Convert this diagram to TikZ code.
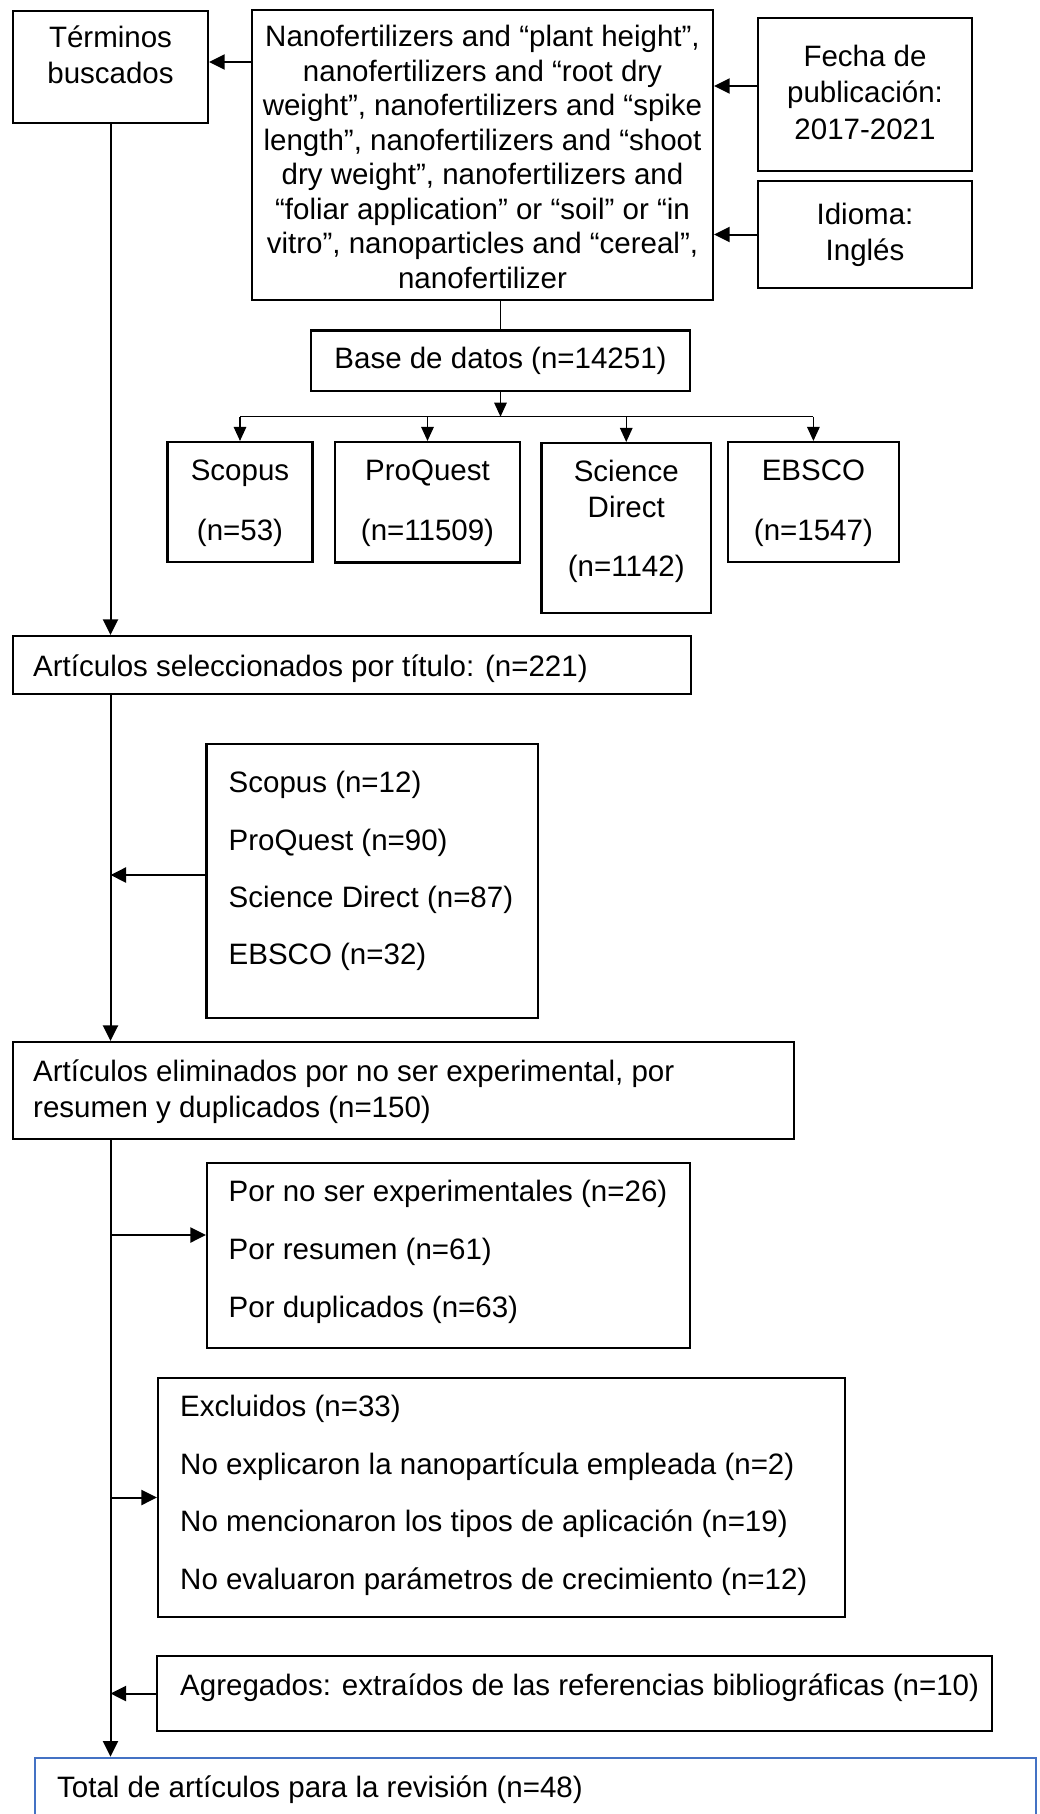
\documentclass[tikz,border=0pt]{standalone}
\usepackage{fontspec}
\setmainfont{Liberation Sans}
\usetikzlibrary{arrows.meta,calc}
\definecolor{boxblue}{RGB}{68,114,196}
\begin{document}
\begin{tikzpicture}[x=1pt,y=-1pt,
  bx/.style={draw,line width=2.1pt,inner sep=0pt,rectangle},
  tx/.style={inner sep=0pt,font=\fontsize{29.5}{35}\selectfont},
  arr/.style={line width=2pt,-{Triangle[length=15.5pt,width=15pt]}},
  tarr/.style={line width=1.3pt,-{Triangle[length=14pt,width=12.5pt]}},
  tline/.style={line width=1.3pt},
]
\useasboundingbox (0,0) rectangle (1039,1814);
\fill[white] (0,0) rectangle (1039,1814);

% ---------- boxes ----------
\node[bx,minimum width=195pt,minimum height=112pt] (term) at (110.5,67) {};
\node[bx,minimum width=461pt,minimum height=290pt] (nano) at (482.5,155) {};
\node[bx,minimum width=214pt,minimum height=153pt] (fecha) at (865,94.2) {};
\node[bx,minimum width=214pt,minimum height=107pt] (idioma) at (865,234.5) {};
\node[bx,minimum width=379pt,minimum height=60.5pt] (base) at (500.5,360.75) {};
\node[bx,minimum width=145pt,minimum height=119.7pt] (scopus) at (240,501.85) {};
\node[bx,minimum width=185pt,minimum height=120.5pt] (proquest) at (427.5,502.25) {};
\node[bx,minimum width=169.5pt,minimum height=169.7pt] (scidir) at (626.25,527.85) {};
\node[bx,minimum width=170.8pt,minimum height=120pt] (ebsco) at (813.4,502) {};
\node[bx,minimum width=678pt,minimum height=58pt] (sel) at (352,665) {};
\node[bx,minimum width=331.5pt,minimum height=273.4pt] (list) at (372.25,881) {};
\node[bx,minimum width=781pt,minimum height=97pt] (elim) at (403.5,1090.5) {};
\node[bx,minimum width=483pt,minimum height=185pt] (por) at (448.5,1255.5) {};
\node[bx,minimum width=687pt,minimum height=239pt] (excl) at (501.5,1497.5) {};
\node[bx,minimum width=835pt,minimum height=75pt] (agr) at (574.5,1693.5) {};
\node[bx,draw=boxblue,line width=2.7pt,minimum width=1001pt,minimum height=82pt] (total) at (535.5,1799) {};

% ---------- texts ----------
\node[tx,anchor=base] (t1) at (110.5,48) {Términos};
\node[tx,anchor=base] (t2) at (110.5,83.5) {buscados};

\foreach \s [count=\i from 0] in {%
  {Nanofertilizers and “plant height”,},
  {nanofertilizers and “root dry},
  {weight”, nanofertilizers and “spike},
  {length”, nanofertilizers and “shoot},
  {dry weight”, nanofertilizers and},
  {“foliar application” or “soil” or “in},
  {vitro”, nanoparticles and “cereal”,},
  {nanofertilizer}}
  \node[tx,anchor=base] (n\i) at (482.5,46.7+34.5*\i) {\s};

\node[tx,anchor=base] (f1) at (865,66.7) {Fecha de};
\node[tx,anchor=base] (f2) at (865,103) {publicación:};
\node[tx,anchor=base] (f3) at (865,139.3) {2017-2021};
\node[tx,anchor=base] (i1) at (865,225) {Idioma:};
\node[tx,anchor=base] (i2) at (865,260) {Inglés};

\node[tx,anchor=base] (b1) at (500.5,368) {Base de datos (n=14251)};

\node[tx,anchor=base] (s1) at (240,480) {Scopus};
\node[tx,anchor=base] (s2) at (240,540) {(n=53)};
\node[tx,anchor=base] (p1) at (427.5,480) {ProQuest};
\node[tx,anchor=base] (p2) at (427.5,540) {(n=11509)};
\node[tx,anchor=base] (d1) at (626.25,481.7) {Science};
\node[tx,anchor=base] (d2) at (626.25,517) {Direct};
\node[tx,anchor=base] (d3) at (626.25,576.7) {(n=1142)};
\node[tx,anchor=base] (e1) at (813.4,480) {EBSCO};
\node[tx,anchor=base] (e2) at (813.4,540) {(n=1547)};

\node[tx,anchor=base west] (sel1) at (33,676) {Artículos seleccionados por título: (n=221)};

\foreach \s [count=\i from 0] in {Scopus (n=12), ProQuest (n=90), Science Direct (n=87), EBSCO (n=32)}
  \node[tx,anchor=base west] (l\i) at (228.5,792.7+57.4*\i) {\s};

\node[tx,anchor=base west] (el1) at (33,1081) {Artículos eliminados por no ser experimental, por};
\node[tx,anchor=base west] (el2) at (33,1117) {resumen y duplicados (n=150)};

\node[tx,anchor=base west] (po1) at (228.5,1201.5) {Por no ser experimentales (n=26)};
\node[tx,anchor=base west] (po2) at (228.5,1259.5) {Por resumen (n=61)};
\node[tx,anchor=base west] (po3) at (228.5,1317.7) {Por duplicados (n=63)};

\node[tx,anchor=base west] (x1) at (180,1416) {Excluidos (n=33)};
\node[tx,anchor=base west] (x2) at (180,1474.4) {No explicaron la nanopartícula empleada (n=2)};
\node[tx,anchor=base west] (x3) at (180,1531.8) {No mencionaron los tipos de aplicación (n=19)};
\node[tx,anchor=base west] (x4) at (180,1589.3) {No evaluaron parámetros de crecimiento (n=12)};

\node[tx,anchor=base west] (a1) at (180,1695) {Agregados: extraídos de las referencias bibliográficas (n=10)};

\node[tx,anchor=base west] (to1) at (57,1797) {Total de artículos para la revisión (n=48)};

% ---------- connector heights ----------
\coordinate (yterm) at (0,62);
\coordinate (yfecha) at (0,86);
\coordinate (yhub) at (0,416.7);
\coordinate (ylist) at (0,875);
\coordinate (ypor) at (0,1235);

% ---------- connectors ----------
\draw[arr] (nano.west |- yterm) -- (term.east |- yterm);
\draw[arr] (fecha.west |- yfecha) -- (nano.east |- yfecha);
\draw[arr] (idioma.west) -- (nano.east |- idioma.west);
\draw[line width=1.1pt] (base.north |- nano.south) -- (base.north);
\draw[tarr] (base.south) -- (base.south |- yhub);
\draw[tline] (scopus.north |- yhub) -- (ebsco.north |- yhub);
\foreach \b in {scopus,proquest,scidir,ebsco}
  \draw[tarr] (\b.north |- yhub) -- (\b.north);

\draw[arr] (term.south) -- (term.south |- sel.north);
\draw[arr] (term.south |- sel.south) -- (term.south |- elim.north);
\draw[arr] (list.west |- ylist) -- (term.south |- ylist);
\draw[arr] (term.south |- elim.south) -- (term.south |- total.north);
\draw[arr] (term.south |- ypor) -- (por.west |- ypor);
\draw[arr] (term.south |- excl.west) -- (excl.west);
\draw[arr] (agr.west) -- (term.south |- agr.west);
\end{tikzpicture}
\end{document}
